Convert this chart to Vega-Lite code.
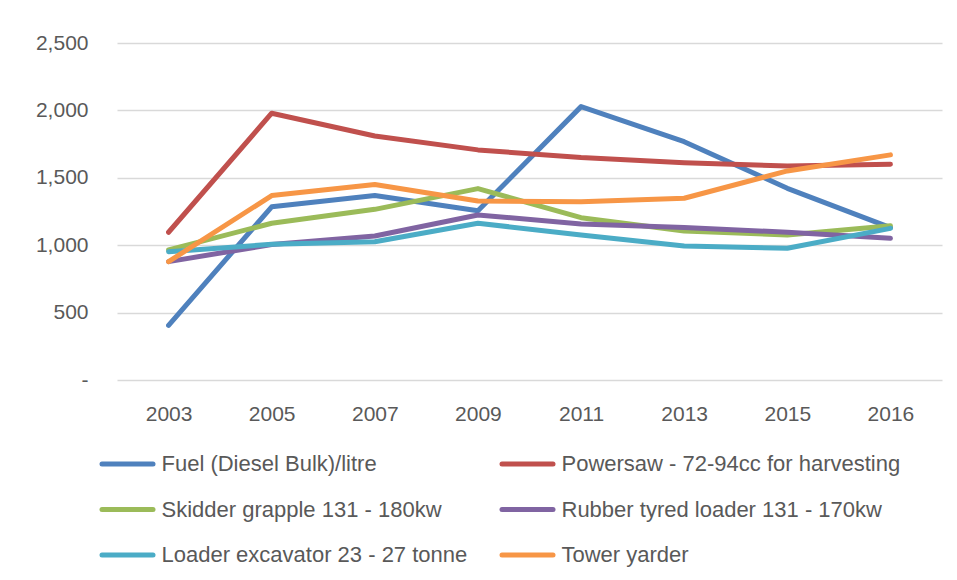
{
  "$schema": "https://vega.github.io/schema/vega-lite/v6.json",
  "autosize": "none",
  "width": 825,
  "height": 337,
  "padding": {"left": 117, "top": 43, "right": 15, "bottom": 200},
  "background": "white",
  "data": {
    "values": [
      {"series": "Fuel (Diesel Bulk)/litre", "year": "2003", "value": 405},
      {"series": "Fuel (Diesel Bulk)/litre", "year": "2005", "value": 1285},
      {"series": "Fuel (Diesel Bulk)/litre", "year": "2007", "value": 1368},
      {"series": "Fuel (Diesel Bulk)/litre", "year": "2009", "value": 1255},
      {"series": "Fuel (Diesel Bulk)/litre", "year": "2011", "value": 2028},
      {"series": "Fuel (Diesel Bulk)/litre", "year": "2013", "value": 1768},
      {"series": "Fuel (Diesel Bulk)/litre", "year": "2015", "value": 1422},
      {"series": "Fuel (Diesel Bulk)/litre", "year": "2016", "value": 1130},
      {"series": "Powersaw - 72-94cc for harvesting", "year": "2003", "value": 1096},
      {"series": "Powersaw - 72-94cc for harvesting", "year": "2005", "value": 1979},
      {"series": "Powersaw - 72-94cc for harvesting", "year": "2007", "value": 1810},
      {"series": "Powersaw - 72-94cc for harvesting", "year": "2009", "value": 1707},
      {"series": "Powersaw - 72-94cc for harvesting", "year": "2011", "value": 1650},
      {"series": "Powersaw - 72-94cc for harvesting", "year": "2013", "value": 1612},
      {"series": "Powersaw - 72-94cc for harvesting", "year": "2015", "value": 1588},
      {"series": "Powersaw - 72-94cc for harvesting", "year": "2016", "value": 1600},
      {"series": "Skidder grapple 131 - 180kw", "year": "2003", "value": 965},
      {"series": "Skidder grapple 131 - 180kw", "year": "2005", "value": 1163},
      {"series": "Skidder grapple 131 - 180kw", "year": "2007", "value": 1266},
      {"series": "Skidder grapple 131 - 180kw", "year": "2009", "value": 1420},
      {"series": "Skidder grapple 131 - 180kw", "year": "2011", "value": 1204},
      {"series": "Skidder grapple 131 - 180kw", "year": "2013", "value": 1105},
      {"series": "Skidder grapple 131 - 180kw", "year": "2015", "value": 1076},
      {"series": "Skidder grapple 131 - 180kw", "year": "2016", "value": 1145},
      {"series": "Rubber tyred loader 131 - 170kw", "year": "2003", "value": 878},
      {"series": "Rubber tyred loader 131 - 170kw", "year": "2005", "value": 1005},
      {"series": "Rubber tyred loader 131 - 170kw", "year": "2007", "value": 1068},
      {"series": "Rubber tyred loader 131 - 170kw", "year": "2009", "value": 1224},
      {"series": "Rubber tyred loader 131 - 170kw", "year": "2011", "value": 1158},
      {"series": "Rubber tyred loader 131 - 170kw", "year": "2013", "value": 1132},
      {"series": "Rubber tyred loader 131 - 170kw", "year": "2015", "value": 1096},
      {"series": "Rubber tyred loader 131 - 170kw", "year": "2016", "value": 1051},
      {"series": "Loader excavator 23 - 27 tonne", "year": "2003", "value": 952},
      {"series": "Loader excavator 23 - 27 tonne", "year": "2005", "value": 1007},
      {"series": "Loader excavator 23 - 27 tonne", "year": "2007", "value": 1026},
      {"series": "Loader excavator 23 - 27 tonne", "year": "2009", "value": 1163},
      {"series": "Loader excavator 23 - 27 tonne", "year": "2011", "value": 1076},
      {"series": "Loader excavator 23 - 27 tonne", "year": "2013", "value": 994},
      {"series": "Loader excavator 23 - 27 tonne", "year": "2015", "value": 977},
      {"series": "Loader excavator 23 - 27 tonne", "year": "2016", "value": 1125},
      {"series": "Tower yarder", "year": "2003", "value": 878},
      {"series": "Tower yarder", "year": "2005", "value": 1368},
      {"series": "Tower yarder", "year": "2007", "value": 1450},
      {"series": "Tower yarder", "year": "2009", "value": 1328},
      {"series": "Tower yarder", "year": "2011", "value": 1323},
      {"series": "Tower yarder", "year": "2013", "value": 1348},
      {"series": "Tower yarder", "year": "2015", "value": 1551},
      {"series": "Tower yarder", "year": "2016", "value": 1670}
    ]
  },
  "mark": {"type": "line", "strokeWidth": 5, "strokeCap": "round", "strokeJoin": "round"},
  "encoding": {
    "x": {
      "field": "year",
      "type": "ordinal",
      "sort": ["2003", "2005", "2007", "2009", "2011", "2013", "2015", "2016"],
      "scale": {"type": "point", "padding": 0.5},
      "axis": {
        "title": null,
        "labelAngle": 0,
        "ticks": false,
        "domain": false,
        "grid": false,
        "labelPadding": 23,
        "labelFontSize": 21,
        "labelFont": "Liberation Sans",
        "labelColor": "#595959"
      }
    },
    "y": {
      "field": "value",
      "type": "quantitative",
      "scale": {"domain": [0, 2500], "nice": false, "zero": true},
      "axis": {
        "title": null,
        "values": [0, 500, 1000, 1500, 2000, 2500],
        "format": ",.0f",
        "labelExpr": "datum.value === 0 ? '-\u00a0\u00a0' : datum.label",
        "ticks": false,
        "domain": false,
        "grid": true,
        "gridColor": "#d9d9d9",
        "gridWidth": 1.5,
        "labelPadding": 29,
        "labelFontSize": 21,
        "labelFont": "Liberation Sans",
        "labelColor": "#595959"
      }
    },
    "color": {
      "field": "series",
      "type": "nominal",
      "scale": {
        "domain": [
          "Fuel (Diesel Bulk)/litre",
          "Powersaw - 72-94cc for harvesting",
          "Skidder grapple 131 - 180kw",
          "Rubber tyred loader 131 - 170kw",
          "Loader excavator 23 - 27 tonne",
          "Tower yarder"
        ],
        "range": ["#4f81bd", "#c0504d", "#9bbb59", "#8064a2", "#4bacc6", "#f79646"]
      },
      "legend": {
        "title": null,
        "orient": "none",
        "legendX": -17.5,
        "legendY": 393,
        "direction": "horizontal",
        "columns": 2,
        "columnPadding": 24,
        "rowPadding": 6.5,
        "padding": 0,
        "symbolType": "stroke",
        "symbolSize": 2601,
        "symbolStrokeWidth": 5,
        "labelOffset": 6,
        "labelFontSize": 22,
        "labelFont": "Liberation Sans",
        "labelColor": "#595959",
        "labelLimit": 600,
        "encode": {"symbols": {"update": {"strokeCap": {"value": "round"}}}}
      }
    }
  },
  "config": {"view": {"stroke": null}}
}
